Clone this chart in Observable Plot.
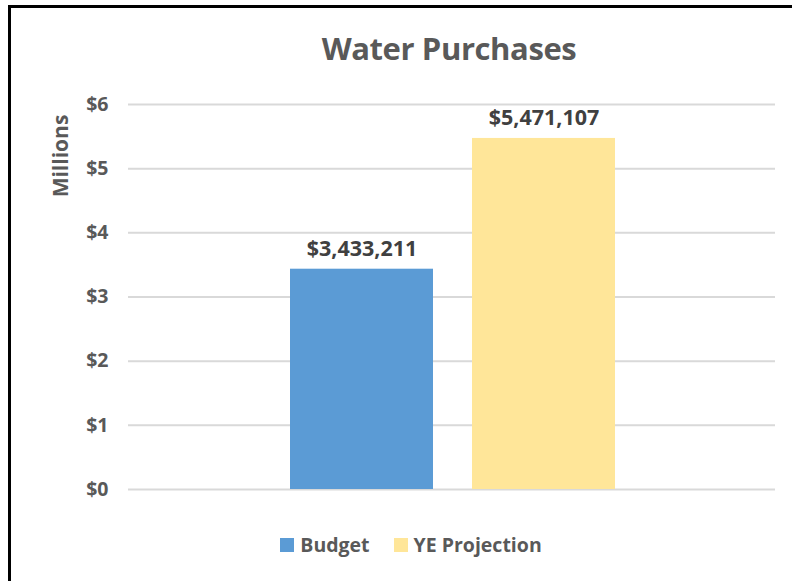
<!DOCTYPE html>
<html>
<head>
<meta charset="utf-8">
<script src="https://cdn.jsdelivr.net/npm/d3@7"></script>
<script src="https://cdn.jsdelivr.net/npm/@observablehq/plot@0.6"></script>
<style>
  html, body { margin: 0; padding: 0; background: #fff; }
  #wrap { position: relative; width: 792px; height: 581px; overflow: hidden; font-family: "Open Sans", sans-serif; }
  #frame { position: absolute; left: 8px; top: 5px; width: 800px; height: 600px; border-left: 3px solid #000; border-top: 3px solid #000; box-sizing: border-box; }
  #title { position: absolute; left: 0; width: 898px; top: 27px; text-align: center; font-weight: 700; font-size: 31px; color: #595959; letter-spacing: -0.4px; }
  #ylabel { position: absolute; left: 60px; top: 156px; transform: translate(-50%, -50%) rotate(-90deg); font-weight: 700; font-size: 21px; color: #595959; white-space: nowrap; }
  #chart { position: absolute; left: 0; top: 0; }
  #legend { position: absolute; left: 0; width: 822px; top: 531px; display: flex; justify-content: center; gap: 24px; font-weight: 700; font-size: 19.5px; color: #595959; }
  .item { display: flex; align-items: center; gap: 6px; }
  .sw { width: 14px; height: 14px; display: inline-block; }
</style>
</head>
<body>
<div id="wrap">
  <div id="frame"></div>
  <div id="title"></div>
  <div id="ylabel"></div>
  <div id="chart"></div>
  <div id="legend"></div>
</div>
<script>
const categories = ["Budget", "YE Projection"];
const values = [3433211, 5471107];
const colors = ["#5B9BD5", "#FFE699"];
const yTicks = [0, 1, 2, 3, 4, 5, 6];
const titleText = "Water Purchases";
const yLabelText = "Millions";

const data = categories.map((c, i) => ({ cat: c, value: values[i], m: values[i] / 1e6 }));

document.getElementById("title").textContent = titleText;
document.getElementById("ylabel").textContent = yLabelText;

const chart = Plot.plot({
  width: 792,
  height: 510,
  marginTop: 104,
  marginBottom: 21,
  marginLeft: 128,
  marginRight: 17,
  style: { fontFamily: "Open Sans, sans-serif", background: "transparent", overflow: "visible" },
  x: { domain: categories, range: [289, 616], paddingInner: 0.213, paddingOuter: 0, axis: null },
  y: { domain: [0, 6], ticks: yTicks },
  color: { domain: categories, range: colors },
  marks: [
    Plot.ruleY(yTicks, { stroke: "#D9D9D9", strokeWidth: 2 }),
    Plot.axisY(yTicks, { tickSize: 0, tickPadding: 20, tickFormat: d => "$" + d, label: null, fontSize: 19.5, fontWeight: 700, fill: "#595959" }),
    Plot.barY(data, { x: "cat", y: "m", fill: "cat" }),
    Plot.text(data, { x: "cat", y: "m", text: d => "$" + d3.format(",")(d.value), lineAnchor: "bottom", dy: -13, fontSize: 21.5, fontWeight: 700, fill: "#404040" })
  ]
});
document.getElementById("chart").appendChild(chart);

const legend = document.getElementById("legend");
categories.forEach((c, i) => {
  const item = document.createElement("div");
  item.className = "item";
  const sw = document.createElement("span");
  sw.className = "sw";
  sw.style.background = colors[i];
  const t = document.createElement("span");
  t.textContent = c;
  item.appendChild(sw);
  item.appendChild(t);
  legend.appendChild(item);
});
</script>
</body>
</html>
